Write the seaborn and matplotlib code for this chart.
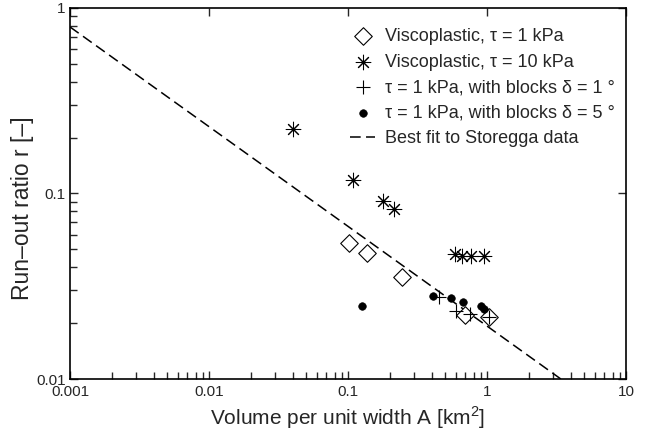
import numpy as np
import pandas as pd
import seaborn as sns
import matplotlib.pyplot as plt
from matplotlib.ticker import LogLocator, FixedLocator, FixedFormatter, NullFormatter

# Viscoplastic, tau = 1 kPa
visc1_A = [0.1016, 0.137, 0.244, 0.695, 1.03]
visc1_r = [0.054, 0.0478, 0.0355, 0.0221, 0.0216]

# Viscoplastic, tau = 10 kPa
visc10_A = [0.040, 0.109, 0.179, 0.214, 0.589, 0.661, 0.767, 0.95]
visc10_r = [0.223, 0.118, 0.091, 0.0825, 0.0472, 0.046, 0.046, 0.046]

# tau = 1 kPa with blocks, delta = 1 deg
blk1_A = [0.452, 0.598, 0.755, 1.03]
blk1_r = [0.0277, 0.0233, 0.0224, 0.0216]

# tau = 1 kPa with blocks, delta = 5 deg
blk5_A = [0.126, 0.409, 0.551, 0.671, 0.906, 0.951]
blk5_r = [0.0248, 0.028, 0.0273, 0.026, 0.0248, 0.0238]

# best fit to Storegga data (end points of the straight line in log-log)
fit_A = [0.001, 3.4]
fit_r = [0.79, 0.01]

x_ticks = [0.001, 0.01, 0.1, 1, 10]
x_labels = ['0.001', '0.01', '0.1', '1', '10']
y_ticks = [0.01, 0.1, 1]
y_labels = ['0.01', '0.1', '1']

sns.set_theme(style='ticks')
plt.rcParams['font.family'] = ['Liberation Sans', 'DejaVu Sans']
plt.rcParams['mathtext.fontset'] = 'custom'
plt.rcParams['mathtext.rm'] = 'Liberation Sans'

fig = plt.figure(figsize=(6.45, 4.34), dpi=100)
ax = fig.add_axes([0.1085, 0.1267, 0.862, 0.855])

sns.scatterplot(x=visc1_A, y=visc1_r, ax=ax, marker='D', s=80, facecolor='white',
                edgecolor='black', linewidth=0.8, label='Viscoplastic, τ = 1 kPa', zorder=3)
sns.scatterplot(x=visc10_A, y=visc10_r, ax=ax, marker=(8, 2, 0), s=110, color='black',
                linewidth=0.75, label='Viscoplastic, τ = 10 kPa', zorder=3)
sns.scatterplot(x=blk1_A, y=blk1_r, ax=ax, marker='+', s=110, color='black',
                linewidth=0.8, label='τ = 1 kPa, with blocks δ = 1 °', zorder=3)
sns.scatterplot(x=blk5_A, y=blk5_r, ax=ax, marker='o', s=30, color='black',
                edgecolor='black', label='τ = 1 kPa, with blocks δ = 5 °', zorder=3)
sns.lineplot(x=fit_A, y=fit_r, ax=ax, color='black', linewidth=1.1,
             label='Best fit to Storegga data')
ax.lines[-1].set_dashes((7, 3.5))

ax.set_xscale('log')
ax.set_yscale('log')
ax.set_xlim(0.001, 10)
ax.set_ylim(0.01, 1)

ax.xaxis.set_major_locator(FixedLocator(x_ticks))
ax.xaxis.set_major_formatter(FixedFormatter(x_labels))
ax.yaxis.set_major_locator(FixedLocator(y_ticks))
ax.yaxis.set_major_formatter(FixedFormatter(y_labels))
ax.xaxis.set_minor_locator(LogLocator(base=10, subs=np.arange(2, 10), numticks=20))
ax.yaxis.set_minor_locator(LogLocator(base=10, subs=np.arange(2, 10), numticks=20))
ax.xaxis.set_minor_formatter(NullFormatter())
ax.yaxis.set_minor_formatter(NullFormatter())

ax.tick_params(which='major', direction='in', length=6, width=1.0, labelsize=11,
               top=True, right=True, pad=3)
ax.tick_params(axis='x', which='major', pad=4.5)
ax.tick_params(which='minor', direction='in', length=5, width=1.0, top=False, right=False)
for s in ax.spines.values():
    s.set_linewidth(1.2)
    s.set_color('black')

ax.set_xlabel('Volume per unit width A [km$^2$]', fontsize=15, labelpad=4)
ax.set_ylabel('Run–out ratio r [–]', fontsize=16.5)
ax.yaxis.set_label_coords(-0.064, 0.46)

leg = ax.legend(loc='upper right', bbox_to_anchor=(1.0, 0.975), frameon=False,
                fontsize=13, handlelength=1.4, handletextpad=0.55, labelspacing=0.47,
                borderaxespad=0.2, borderpad=0.4)

plt.savefig('out.png', dpi=100)
